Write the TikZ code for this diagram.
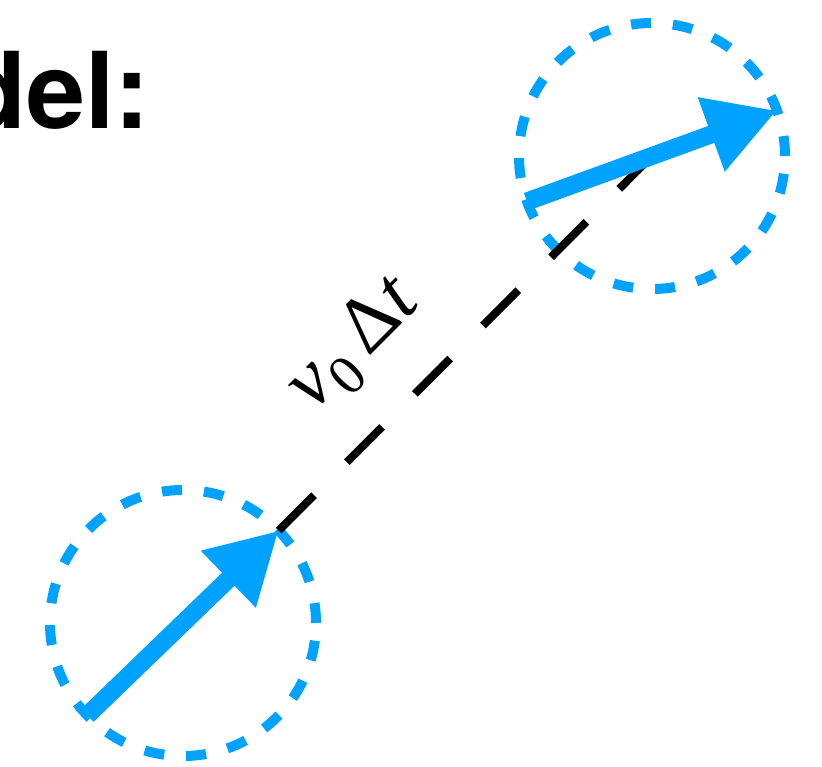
\documentclass[tikz,border=0pt]{standalone}
\usepackage{fontspec}
\newfontfamily\headfont{TeX Gyre Heros}
\newfontfamily\labelfont{Liberation Serif}
\usetikzlibrary{arrows.meta,positioning}
\definecolor{partblue}{RGB}{0,162,255}
\begin{document}
\begin{tikzpicture}[
                x=1pt, y=-1pt,
                particle/.style={circle,draw=partblue,line width=10pt,
                    dash pattern=on 20pt off 22pt,minimum size=266pt,
                    inner sep=0pt,outer sep=0pt},
                velocity/.style={draw=partblue,line width=18pt,
                    -{Triangle[length=70pt,width=74pt]}},
                track/.style={draw=black,line width=8pt,
                    dash pattern=on 50pt off 46.5pt}
            ]
            \useasboundingbox (0,0) rectangle (822,767);

            \node[font=\headfont\bfseries\fontsize{106}{120}\selectfont,
                inner sep=0pt,anchor=base east] (title) at (150,129) {del:};

            \node[particle] (start) at (183,623) {};
            \node[particle] (end) at (652,156) {};

            \draw[track] (start.44) -- (end.center)
                node[pos=0.35,sloped,above=38pt,inner sep=0pt,
                    font=\labelfont\fontsize{80}{90}\selectfont] (dist)
                {\textit{v}\raisebox{-0.2em}{\fontsize{56}{56}\selectfont 0}\kern0.18em Δ\textit{t}};

            \draw[velocity] (start.224) -- (start.44);
            \draw[velocity] (end.200) -- (end.20);

        \end{tikzpicture}
\end{document}
